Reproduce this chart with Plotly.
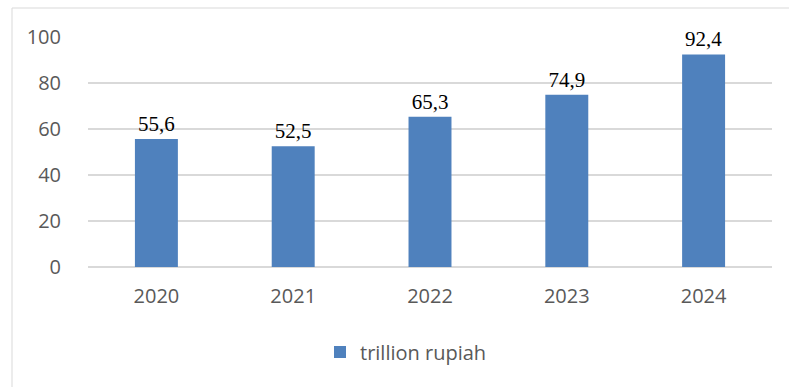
import plotly.graph_objects as go

years = ["2020", "2021", "2022", "2023", "2024"]
values = [55.6, 52.5, 65.3, 74.9, 92.4]
series_name = "trillion rupiah"
y_ticks = [0, 20, 40, 60, 80, 100]

W, H = 789, 387
L, R, T, B = 88, 17, 37, 120
pw, ph = W - L - R, H - T - B

def px_x(x):
    return (x - L) / pw

def px_y(y):
    return (H - B - y) / ph

fig = go.Figure()
fig.add_trace(go.Bar(
    x=years, y=values, name=series_name,
    marker=dict(color="#4F81BD", line=dict(width=0)),
    texttemplate="%{y:.1f}", textposition="outside",
    textfont=dict(family="Liberation Serif, DejaVu Serif, serif", size=21, color="#000000"),
    cliponaxis=False,
    showlegend=True,
))

fig.update_layout(
    width=W, height=H,
    margin=dict(l=L, r=R, t=T, b=B, pad=0),
    paper_bgcolor="white", plot_bgcolor="white",
    separators=", ",
    bargap=0.686,
    font=dict(family="Open Sans, sans-serif", size=20, color="#595959"),
    xaxis=dict(
        type="category", showgrid=False, showline=False, zeroline=False,
        ticks="outside", ticklen=11, tickcolor="rgba(0,0,0,0)",
        tickfont=dict(size=20, color="#595959"),
    ),
    yaxis=dict(
        range=[0, 100], tickvals=y_ticks, showgrid=True, gridcolor="#d9d9d9", gridwidth=1.5,
        zeroline=True, zerolinecolor="#d9d9d9", zerolinewidth=1.5, showline=False,
        ticks="outside", ticklen=22, tickcolor="rgba(0,0,0,0)",
        tickfont=dict(size=20, color="#595959"),
    ),
    legend=dict(
        orientation="h", x=px_x(320), xanchor="left", y=px_y(352), yanchor="middle",
        font=dict(size=20, color="#595959"), itemsizing="constant", itemwidth=30,
    ),
    shapes=[dict(
        type="rect", xref="paper", yref="paper",
        x0=px_x(12), x1=px_x(820), y0=px_y(420), y1=px_y(8),
        line=dict(color="#d9d9d9", width=1), layer="below",
    )],
)

fig.write_html("out.html")
